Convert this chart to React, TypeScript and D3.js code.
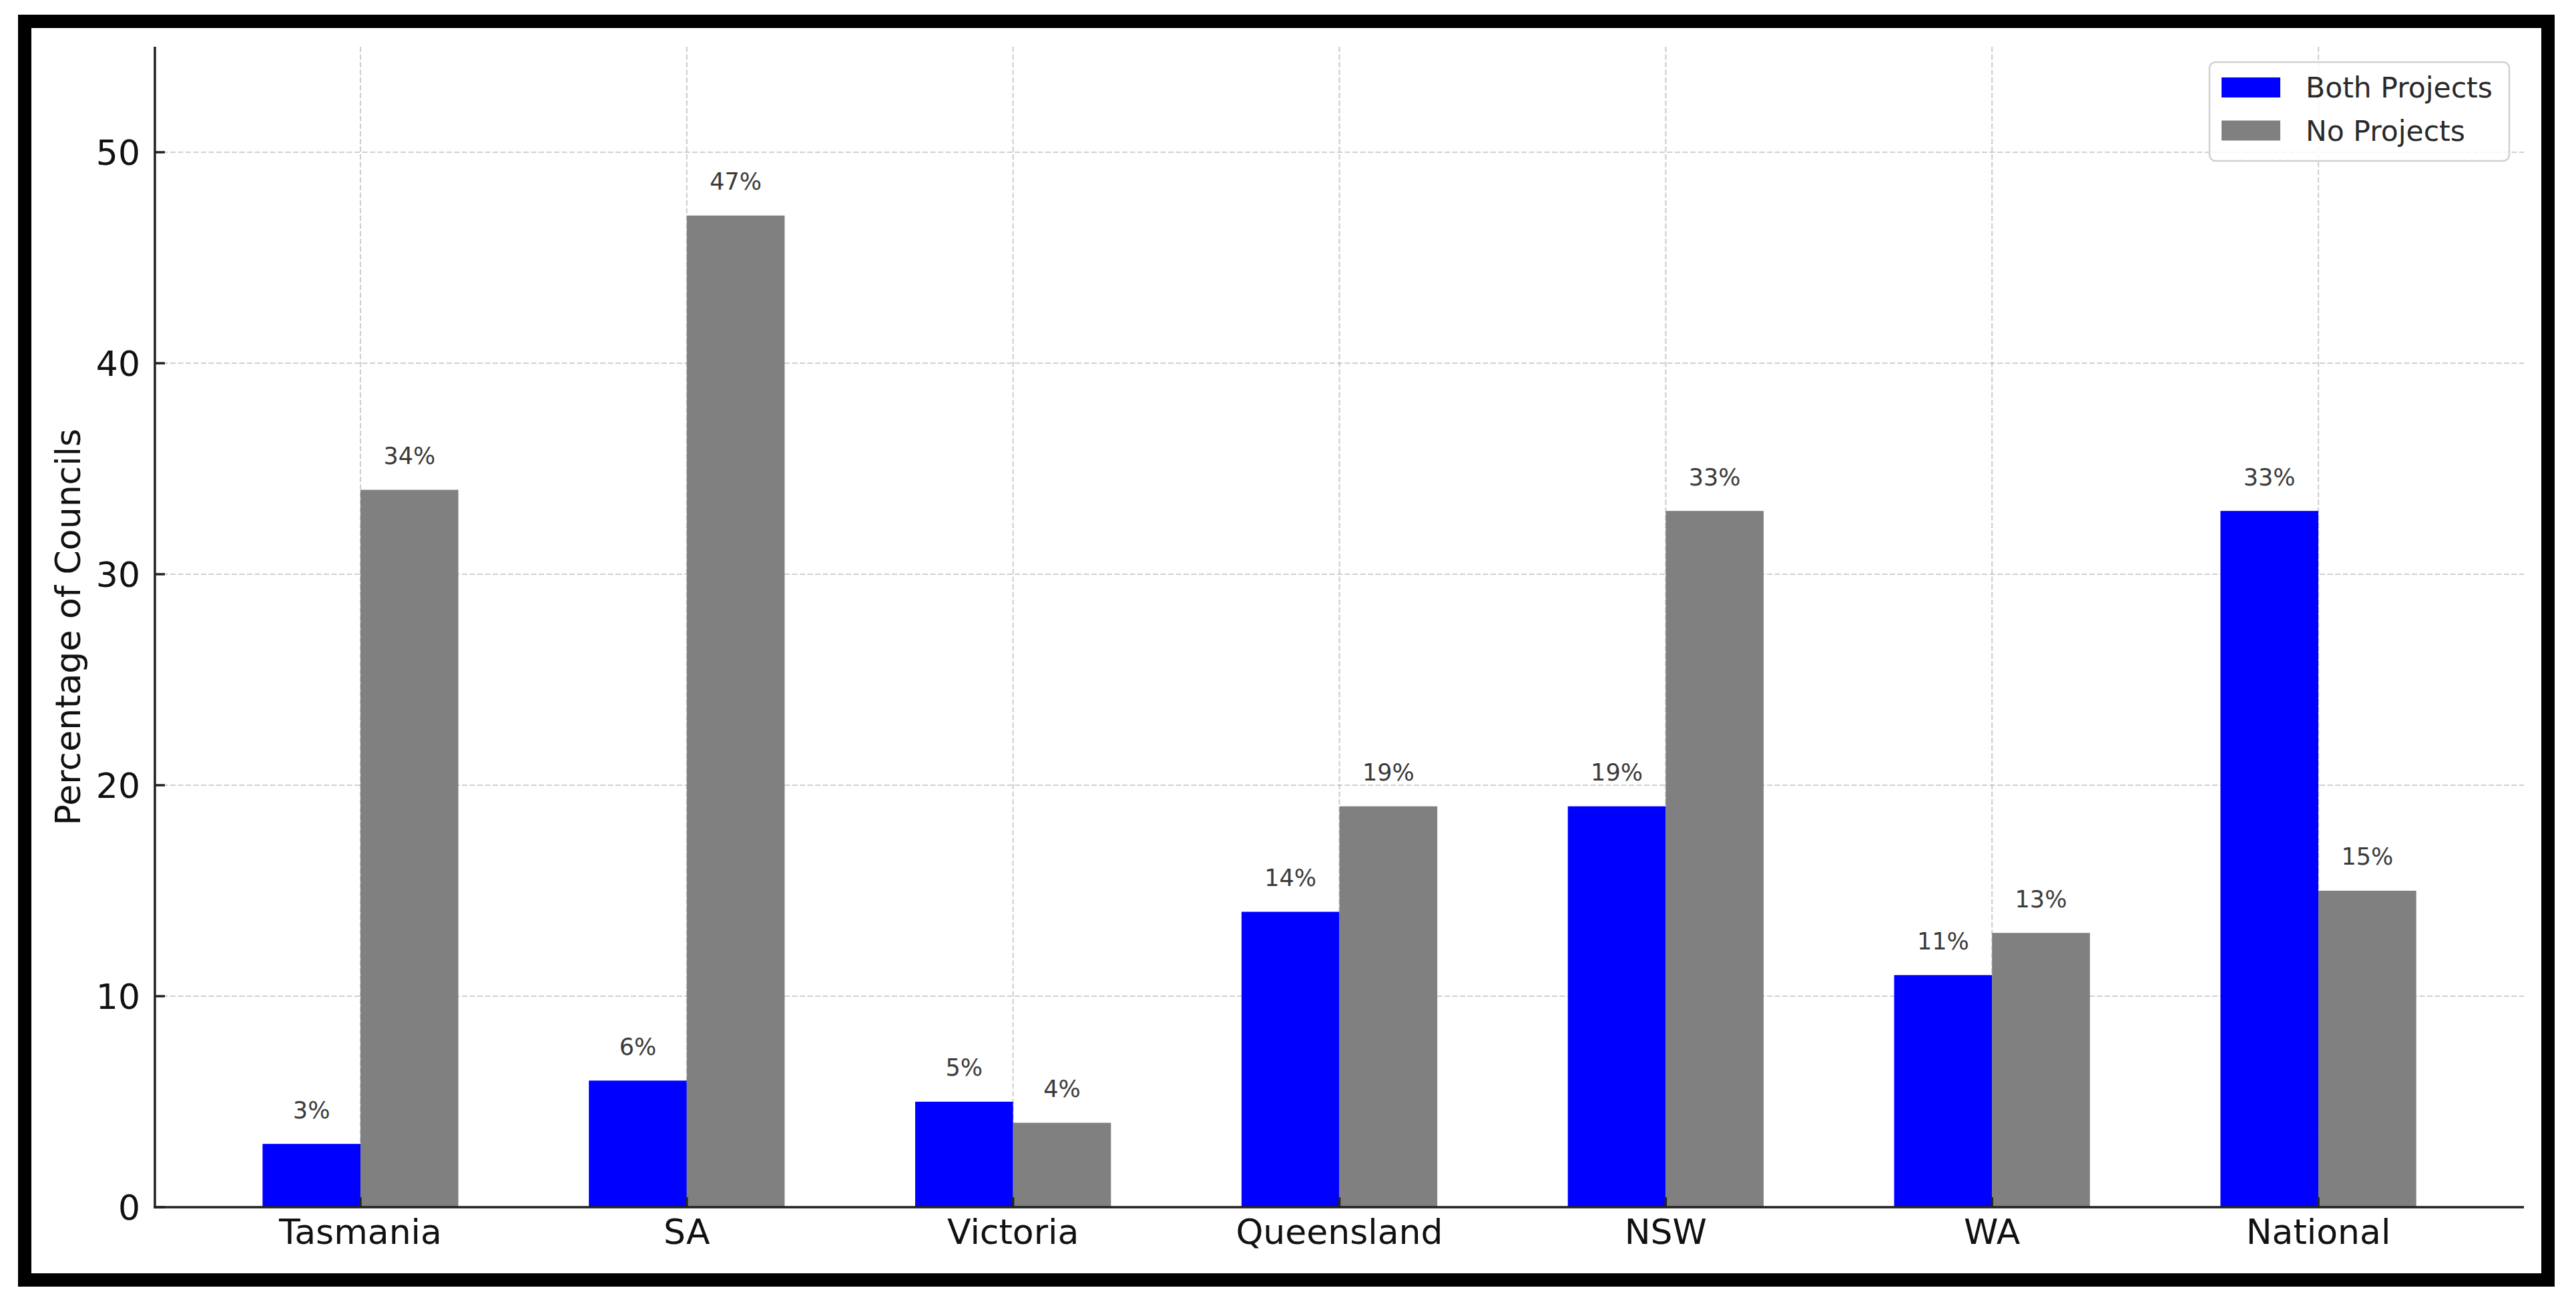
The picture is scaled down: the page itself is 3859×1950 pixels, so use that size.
import { useEffect } from "react";
import * as d3 from "d3";

// data
const regions = ["Tasmania", "SA", "Victoria", "Queensland", "NSW", "WA", "National"];
const bothProjects = [3, 6, 5, 14, 19, 11, 33];
const noProjects = [34, 47, 4, 19, 33, 13, 15];
const yTicks = [0, 10, 20, 30, 40, 50];
const seriesNames = ["Both Projects", "No Projects"];
const seriesColors = ["#0000ff", "#808080"];

const W = 3859;
const H = 1950;
const FONT = "'DejaVu Sans', sans-serif";

export default function App() {
  useEffect(() => {
    document.body.style.margin = "0";
  }, []);

  const plot = { left: 232, right: 3781, top: 70, bottom: 1808 };
  const barW = 0.3;

  // matplotlib style x axis: index positions with 5% margins
  const x = d3
    .scaleLinear()
    .domain([-barW - 0.33, regions.length - 1 + barW + 0.33])
    .range([plot.left, plot.right]);
  const y = d3.scaleLinear().domain([0, 55]).range([plot.bottom, plot.top]);

  const series = [bothProjects, noProjects];

  return (
    <svg
      width={W}
      height={H}
      style={{ position: "absolute", left: 0, top: 0, background: "#fff" }}
      fontFamily={FONT}
    >
      <rect x={0} y={0} width={W} height={H} fill="#fff" />

      {/* grid */}
      <g stroke="#b0b0b0" strokeOpacity={0.6} strokeWidth={2.2} strokeDasharray="8 3.5">
        {yTicks.map((t) => (
          <line key={"gy" + t} x1={plot.left} x2={plot.right} y1={y(t)} y2={y(t)} />
        ))}
        {regions.map((r, i) => (
          <line key={"gx" + r} x1={x(i)} x2={x(i)} y1={plot.top} y2={plot.bottom} />
        ))}
      </g>

      {/* bars */}
      {series.map((vals, s) =>
        vals.map((v, i) => {
          const x0 = s === 0 ? x(i - barW) : x(i);
          const x1 = s === 0 ? x(i) : x(i + barW);
          return (
            <rect
              key={s + "-" + i}
              x={x0}
              y={y(v)}
              width={x1 - x0}
              height={y(0) - y(v)}
              fill={seriesColors[s]}
            />
          );
        })
      )}

      {/* value labels */}
      {series.map((vals, s) =>
        vals.map((v, i) => {
          const cx = s === 0 ? x(i - barW / 2) : x(i + barW / 2);
          return (
            <text
              key={"l" + s + "-" + i}
              x={cx}
              y={y(v + 1) - 7}
              textAnchor="middle"
              fontSize={35}
              fill="#3a3a3a"
            >
              {v}%
            </text>
          );
        })
      )}

      {/* spines */}
      <line x1={plot.left} x2={plot.left} y1={plot.top} y2={plot.bottom + 1.7} stroke="#222" strokeWidth={3.5} />
      <line x1={plot.left - 1.7} x2={plot.right} y1={plot.bottom} y2={plot.bottom} stroke="#222" strokeWidth={3.5} />

      {/* y ticks (inward) */}
      {yTicks.map((t) => (
        <g key={"yt" + t}>
          <line x1={plot.left} x2={plot.left + 15} y1={y(t)} y2={y(t)} stroke="#222" strokeWidth={3.5} />
          <text x={plot.left - 22} y={y(t)} dy="0.36em" textAnchor="end" fontSize={52} fill="#111">
            {t}
          </text>
        </g>
      ))}

      {/* x ticks (inward) */}
      {regions.map((r, i) => (
        <g key={"xt" + r}>
          <line x1={x(i)} x2={x(i)} y1={plot.bottom} y2={plot.bottom - 15} stroke="#222" strokeWidth={3.5} />
          <text x={x(i)} y={1863} textAnchor="middle" fontSize={52} fill="#111">
            {r}
          </text>
        </g>
      ))}

      {/* y axis label */}
      <text
        transform={`translate(120,${(plot.top + plot.bottom) / 2}) rotate(-90)`}
        textAnchor="middle"
        fontSize={52}
        fill="#111"
      >
        Percentage of Councils
      </text>

      {/* legend */}
      <g>
        <rect x={3310} y={93} width={449} height={148} rx={9} fill="#fff" fillOpacity={0.8} stroke="#d0d0d0" strokeWidth={2.5} />
        {seriesNames.map((n, k) => (
          <g key={n}>
            <rect x={3328} y={116 + k * 64.5} width={88} height={30} fill={seriesColors[k]} />
            <text x={3454} y={146 + k * 64.5} fontSize={42.5} fill="#2a2a2a">
              {n}
            </text>
          </g>
        ))}
      </g>

      {/* black frame */}
      <rect x={37} y={32} width={3780} height={1885} fill="none" stroke="#000" strokeWidth={20} />
    </svg>
  );
}
